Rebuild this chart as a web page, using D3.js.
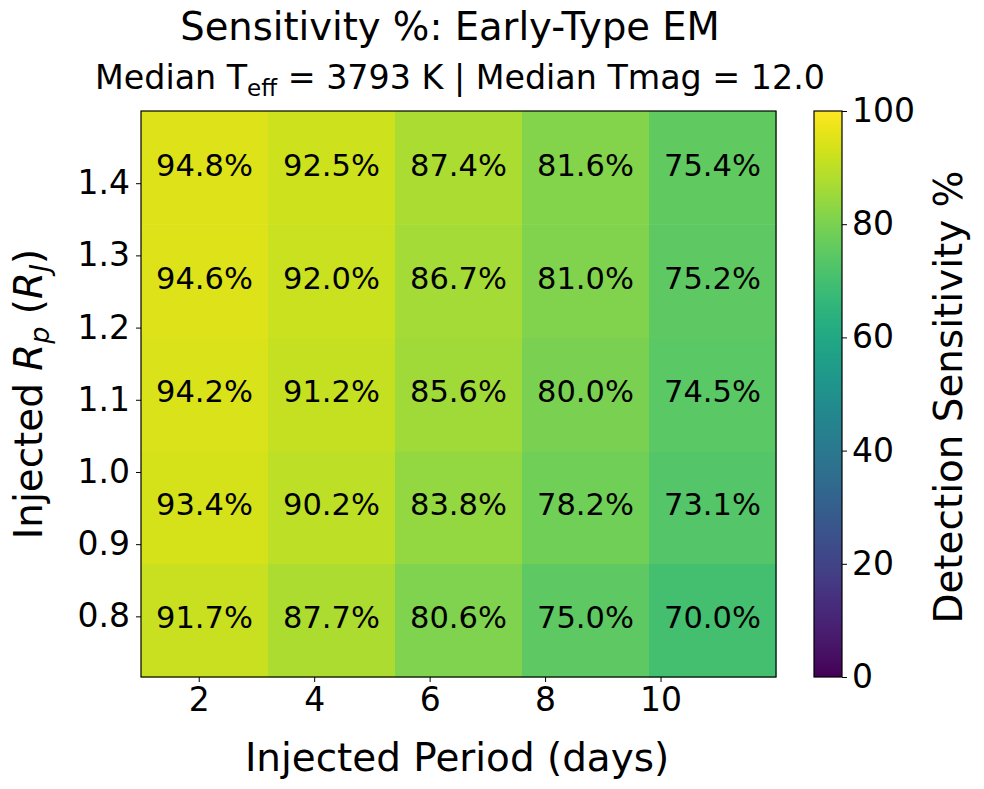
<!DOCTYPE html>
<html>
<head>
<meta charset="utf-8">
<script src="https://cdn.jsdelivr.net/npm/d3@7"></script>
<style>
  body { margin: 0; background: #fff; }
  svg { font-family: "DejaVu Sans", sans-serif; }
</style>
</head>
<body>
<svg></svg>
<script>
// bin edges of the injection grid
const periodEdges = [1, 3.2, 5.4, 7.6, 9.8, 12];
const radiusEdges = [0.716, 0.873, 1.029, 1.186, 1.343, 1.5];
// sensitivity %, rows from smallest radius to largest, columns by period
const sensitivity = [
  [91.7, 87.7, 80.6, 75.0, 70.0],
  [93.4, 90.2, 83.8, 78.2, 73.1],
  [94.2, 91.2, 85.6, 80.0, 74.5],
  [94.6, 92.0, 86.7, 81.0, 75.2],
  [94.8, 92.5, 87.4, 81.6, 75.4]
];
const xTicks = [2, 4, 6, 8, 10];
const yTicks = [0.8, 0.9, 1.0, 1.1, 1.2, 1.3, 1.4];
const cbTicks = [0, 20, 40, 60, 80, 100];

const width = 984, height = 789;
const svg = d3.select("svg").attr("width", width).attr("height", height);

const plot = { left: 141, right: 776, top: 111, bottom: 677 };
const x = d3.scaleLinear().domain([1, 12]).range([plot.left, plot.right]);
const y = d3.scaleLinear().domain([0.716, 1.5]).range([plot.bottom, plot.top]);
const color = v => d3.interpolateViridis(v / 100);

// cells
const cells = [];
sensitivity.forEach((row, r) => {
  row.forEach((v, c) => {
    cells.push({ r, c, v });
  });
});

const cellGroup = svg.append("g");
cellGroup.selectAll("rect")
  .data(cells)
  .enter()
  .append("rect")
  .attr("x", d => x(periodEdges[d.c]))
  .attr("width", d => x(periodEdges[d.c + 1]) - x(periodEdges[d.c]) + 0.5)
  .attr("y", d => y(radiusEdges[d.r + 1]))
  .attr("height", d => y(radiusEdges[d.r]) - y(radiusEdges[d.r + 1]) + 0.5)
  .attr("fill", d => color(d.v));

cellGroup.selectAll("text")
  .data(cells)
  .enter()
  .append("text")
  .attr("x", d => x((periodEdges[d.c] + periodEdges[d.c + 1]) / 2))
  .attr("y", d => y((radiusEdges[d.r] + radiusEdges[d.r + 1]) / 2) + 8)
  .attr("text-anchor", "middle")
  .attr("font-size", 30.5)
  .attr("fill", "#000")
  .text(d => d.v.toFixed(1) + "%");

// axes
const xAxis = d3.axisBottom(x).tickValues(xTicks).tickSize(5).tickPadding(6).tickFormat(d3.format("d"));
const yAxis = d3.axisLeft(y).tickValues(yTicks).tickSize(5).tickPadding(6).tickFormat(d3.format(".1f"));

const gx = svg.append("g").attr("transform", `translate(0,${plot.bottom})`).call(xAxis);
const gy = svg.append("g").attr("transform", `translate(${plot.left},0)`).call(yAxis);
[gx, gy].forEach(g => {
  g.select(".domain").remove();
  g.selectAll("text").attr("font-size", 33).attr("fill", "#000").attr("font-family", "DejaVu Sans");
  g.selectAll("line").attr("stroke", "#000");
});

svg.append("rect")
  .attr("x", plot.left).attr("y", plot.top)
  .attr("width", plot.right - plot.left).attr("height", plot.bottom - plot.top)
  .attr("fill", "none").attr("stroke", "#000").attr("stroke-width", 1.2);

// colorbar
const cb = { left: 814, right: 842 };
const cy = d3.scaleLinear().domain([0, 100]).range([plot.bottom, plot.top]);
const grad = svg.append("defs").append("linearGradient")
  .attr("id", "viridis").attr("x1", 0).attr("y1", 1).attr("x2", 0).attr("y2", 0);
d3.range(0, 1.0001, 0.02).forEach(t => {
  grad.append("stop").attr("offset", t).attr("stop-color", d3.interpolateViridis(t));
});
svg.append("rect")
  .attr("x", cb.left).attr("y", plot.top)
  .attr("width", cb.right - cb.left).attr("height", plot.bottom - plot.top)
  .attr("fill", "url(#viridis)").attr("stroke", "#000").attr("stroke-width", 1.2);

const gc = svg.append("g").attr("transform", `translate(${cb.right},0)`)
  .call(d3.axisRight(cy).tickValues(cbTicks).tickSize(5).tickPadding(5));
gc.select(".domain").remove();
gc.selectAll("text").attr("font-size", 33).attr("fill", "#000").attr("font-family", "DejaVu Sans");
gc.selectAll("line").attr("stroke", "#000");

// titles
svg.append("text")
  .attr("x", 450).attr("y", 40)
  .attr("text-anchor", "middle").attr("font-size", 38.5)
  .text("Sensitivity %: Early-Type EM");

const sub = svg.append("text")
  .attr("x", 460).attr("y", 89)
  .attr("text-anchor", "middle").attr("font-size", 33.3);
sub.append("tspan").text("Median T");
sub.append("tspan").attr("font-size", 23).attr("dy", 7).text("eff");
sub.append("tspan").attr("dy", -7).text(" = 3793 K | Median Tmag = 12.0");

// axis labels
svg.append("text")
  .attr("x", 457).attr("y", 771)
  .attr("text-anchor", "middle").attr("font-size", 38.9)
  .text("Injected Period (days)");

const yl = svg.append("text")
  .attr("transform", "translate(42,394) rotate(-90)")
  .attr("text-anchor", "middle").attr("font-size", 38.9);
yl.append("tspan").text("Injected ");
yl.append("tspan").attr("font-style", "italic").text("R");
yl.append("tspan").attr("font-style", "italic").attr("font-size", 27).attr("dy", 7).text("p");
yl.append("tspan").attr("dy", -7).text(" (");
yl.append("tspan").attr("font-style", "italic").text("R");
yl.append("tspan").attr("font-style", "italic").attr("font-size", 27).attr("dy", 7).text("J");
yl.append("tspan").attr("dy", -7).text(")");

svg.append("text")
  .attr("transform", "translate(962,397) rotate(-90)")
  .attr("text-anchor", "middle").attr("font-size", 38.9)
  .text("Detection Sensitivity %");
</script>
</body>
</html>
